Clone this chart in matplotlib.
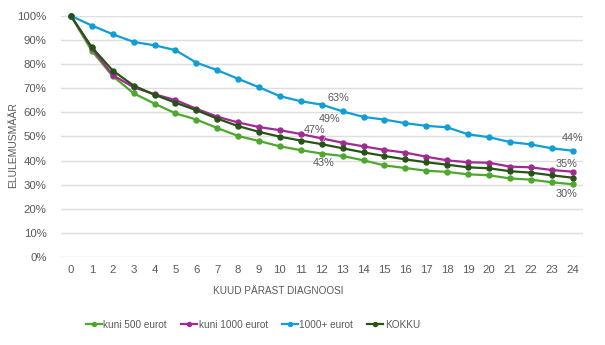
import matplotlib.pyplot as plt
from matplotlib.ticker import PercentFormatter

plt.rcParams['font.family'] = ['Liberation Sans', 'DejaVu Sans']

months = list(range(25))

kuni_500 = [100, 85.5, 75.0, 67.9, 63.6, 59.6, 57.0, 53.5, 50.2, 48.1, 45.9, 44.3, 42.9,
            41.9, 40.1, 38.0, 36.9, 35.8, 35.3, 34.3, 33.9, 32.6, 32.1, 31.0, 30.2]
kuni_1000 = [100, 86.5, 75.4, 70.4, 67.5, 65.1, 61.5, 58.2, 55.8, 53.9, 52.6, 51.0, 49.2,
             47.4, 45.9, 44.4, 43.3, 41.6, 40.1, 39.3, 39.1, 37.5, 37.2, 36.1, 35.4]
yle_1000 = [100, 96.0, 92.4, 89.2, 87.8, 85.8, 80.6, 77.5, 73.9, 70.4, 66.7, 64.6, 63.2,
            60.4, 58.1, 57.0, 55.5, 54.4, 53.8, 50.9, 49.7, 47.7, 46.7, 45.1, 44.1]
kokku = [100, 87.0, 77.3, 71.1, 67.3, 64.0, 60.9, 57.4, 54.3, 51.9, 49.9, 48.3, 46.8,
         45.1, 43.4, 41.9, 40.5, 39.3, 38.3, 37.2, 36.8, 35.6, 35.0, 33.9, 32.9]

series = [
    ('kuni 500 eurot', kuni_500, '#4EA72E'),
    ('kuni 1000 eurot', kuni_1000, '#A02B93'),
    ('1000+ eurot', yle_1000, '#0F9ED5'),
    ('KOKKU', kokku, '#275317'),
]

# (series index, month, offset in pixels)
labels = [
    (2, 12, (17, 7)),
    (1, 12, (8, 19)),
    (3, 12, (-7, 14)),
    (0, 12, (2, -9)),
    (2, 24, (0, 13)),
    (1, 24, (-6, 8)),
    (0, 24, (-6, -10)),
]

txt = '#595959'

fig = plt.figure(figsize=(6.05, 3.45), dpi=100)
ax = fig.add_axes([0.1, 0.255, 0.8636, 0.6989])

lines = []
for name, vals, col in series:
    ln, = ax.plot(months, vals, color=col, lw=1.6, marker='o', ms=3.6,
                  label=name, clip_on=False, zorder=3)
    lines.append(ln)

for si, m, off in labels:
    v = series[si][1][m]
    ax.annotate(f'{v:.0f}%', (m, v), xytext=off, textcoords='offset pixels',
                ha='center', va='center', fontsize=7.8, color=txt, zorder=4)

# leader line for the KOKKU label at month 12
ax.annotate('', (12, kokku[12]), xytext=(5, 11), textcoords='offset pixels',
            arrowprops=dict(arrowstyle='-', color='#bfbfbf', lw=0.6))

ax.set_xlim(-0.5, 24.5)
ax.set_ylim(0, 100)
ax.set_xticks(months)
ax.set_yticks(range(0, 101, 10))
ax.yaxis.set_major_formatter(PercentFormatter(decimals=0))
ax.grid(axis='y', color='#dedede', lw=1)
ax.set_axisbelow(True)
for s in ax.spines.values():
    s.set_visible(False)
ax.tick_params(length=0, labelsize=8.2, colors=txt, pad=6)
ax.tick_params(axis='y', pad=10)

fig.text(0.022, 0.58, 'ELULEMUSMÄÄR', rotation=90, ha='center', va='center',
         fontsize=7.5, color=txt)
fig.text(0.46, 0.157, 'KUUD PÄRAST DIAGNOOSI', ha='center', va='center',
         fontsize=7.2, color=txt)

leg = fig.legend(handles=lines, loc='center', bbox_to_anchor=(0.418, 0.058), ncol=4,
                 frameon=False, fontsize=7.2, handlelength=1.6, handletextpad=0.15,
                 columnspacing=1.4, markerscale=0.8)
for t in leg.get_texts():
    t.set_color(txt)

fig.savefig('out.png', dpi=100)
